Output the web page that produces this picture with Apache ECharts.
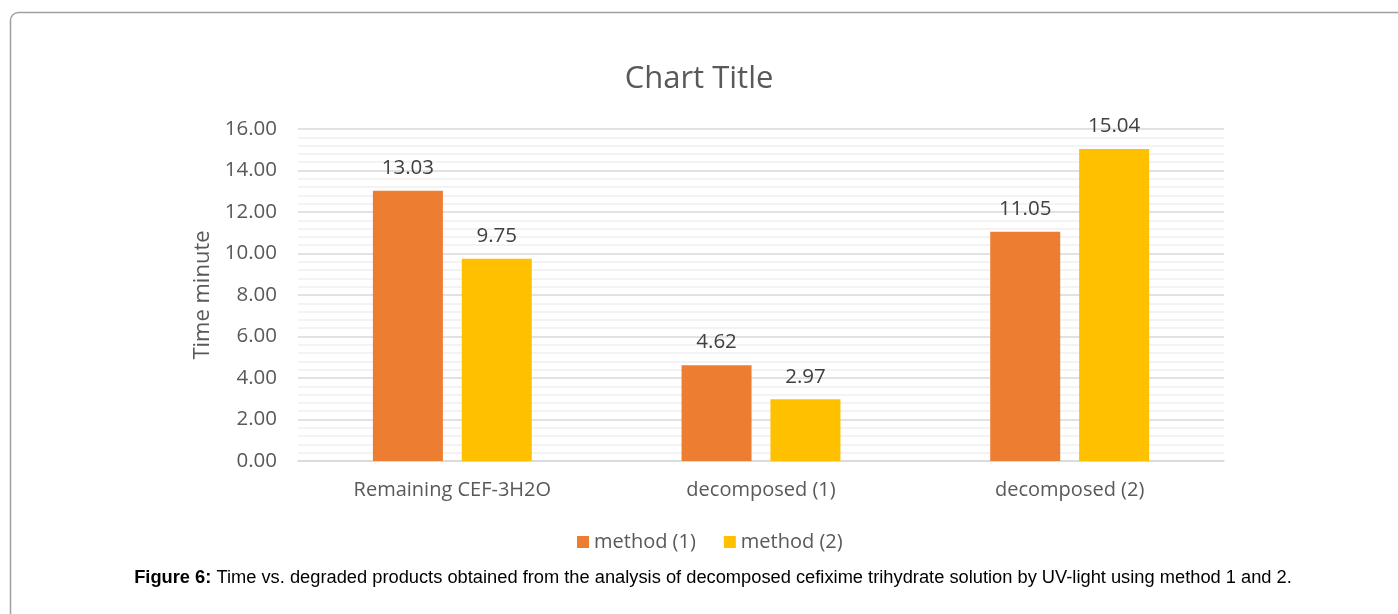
<!DOCTYPE html>
<html>
<head>
<meta charset="utf-8">
<script src="https://cdn.jsdelivr.net/npm/echarts@6/dist/echarts.min.js"></script>
<style>
html,body{margin:0;padding:0;background:#fff;}
#c{width:1398px;height:614px;}
</style>
</head>
<body>
<div id="c"></div>
<script>
var categories = ['Remaining CEF-3H2O', 'decomposed (1)', 'decomposed (2)'];
var method1 = [13.03, 4.62, 11.05];
var method2 = [9.75, 2.97, 15.04];
var seriesNames = ['method (1)', 'method (2)'];
var yTicks = {min: 0, max: 16, interval: 2};

var chart = echarts.init(document.getElementById('c'));
var font = '"Open Sans", "Noto Sans", sans-serif';
var labelOpt = {
  show: true, position: 'top', distance: 12,
  color: '#404040', fontSize: 20.5, fontFamily: font,
  formatter: function (p) { return p.value.toFixed(2); }
};
chart.setOption({
  animation: false,
  backgroundColor: '#fff',
  graphic: [{
    type: 'rect', left: 8, top: 10,
    shape: {width: 1420, height: 640, r: 8},
    style: {fill: 'none', stroke: '#a0a0a0', lineWidth: 1.5}
  }],
  title: [{
    text: 'Chart Title', left: 'center', top: 59,
    textStyle: {color: '#595959', fontSize: 31, fontWeight: 'normal', fontFamily: font}
  }, {
    text: '{b|Figure 6:} Time vs. degraded products obtained from the analysis of decomposed cefixime trihydrate solution by UV-light using method 1 and 2.',
    left: 708, textAlign: 'center', top: 564,
    textStyle: {
      color: '#000', fontSize: 18.3, fontWeight: 'normal', fontFamily: '"Liberation Sans", Arial, sans-serif',
      rich: {b: {fontWeight: 'bold', fontSize: 18.3, color: '#000', fontFamily: '"Liberation Sans", Arial, sans-serif'}}
    }
  }],
  legend: {
    data: seriesNames, left: 572, top: 527,
    itemWidth: 12, itemHeight: 12, itemGap: 28, icon: 'rect',
    textStyle: {color: '#595959', fontSize: 20, fontFamily: font}
  },
  grid: {left: 298, right: 174, top: 129, bottom: 153, containLabel: false},
  xAxis: {
    type: 'category', data: categories,
    axisLine: {lineStyle: {color: '#d9d9d9', width: 1.5}},
    axisTick: {show: false},
    axisLabel: {color: '#595959', fontSize: 20, fontFamily: font, margin: 19}
  },
  yAxis: {
    type: 'value', min: yTicks.min, max: yTicks.max, interval: yTicks.interval,
    name: 'Time minute', nameLocation: 'middle', nameGap: 81,
    nameTextStyle: {color: '#595959', fontSize: 22, fontFamily: font},
    axisLine: {show: false}, axisTick: {show: false},
    axisLabel: {color: '#595959', fontSize: 20.5, fontFamily: font, margin: 21,
      formatter: function (v) { return v.toFixed(2); }},
    splitLine: {lineStyle: {color: '#d9d9d9', width: 1.5}},
    minorTick: {show: false, splitNumber: 5},
    minorSplitLine: {show: true, lineStyle: {color: '#efefef', width: 1.5}}
  },
  series: [{
    name: seriesNames[0], type: 'bar', data: method1,
    barWidth: 70, barGap: '27%',
    itemStyle: {color: '#ed7d31'}, label: labelOpt
  }, {
    name: seriesNames[1], type: 'bar', data: method2,
    barWidth: 70, barGap: '27%',
    itemStyle: {color: '#ffc000'}, label: labelOpt
  }]
});
</script>
</body>
</html>
